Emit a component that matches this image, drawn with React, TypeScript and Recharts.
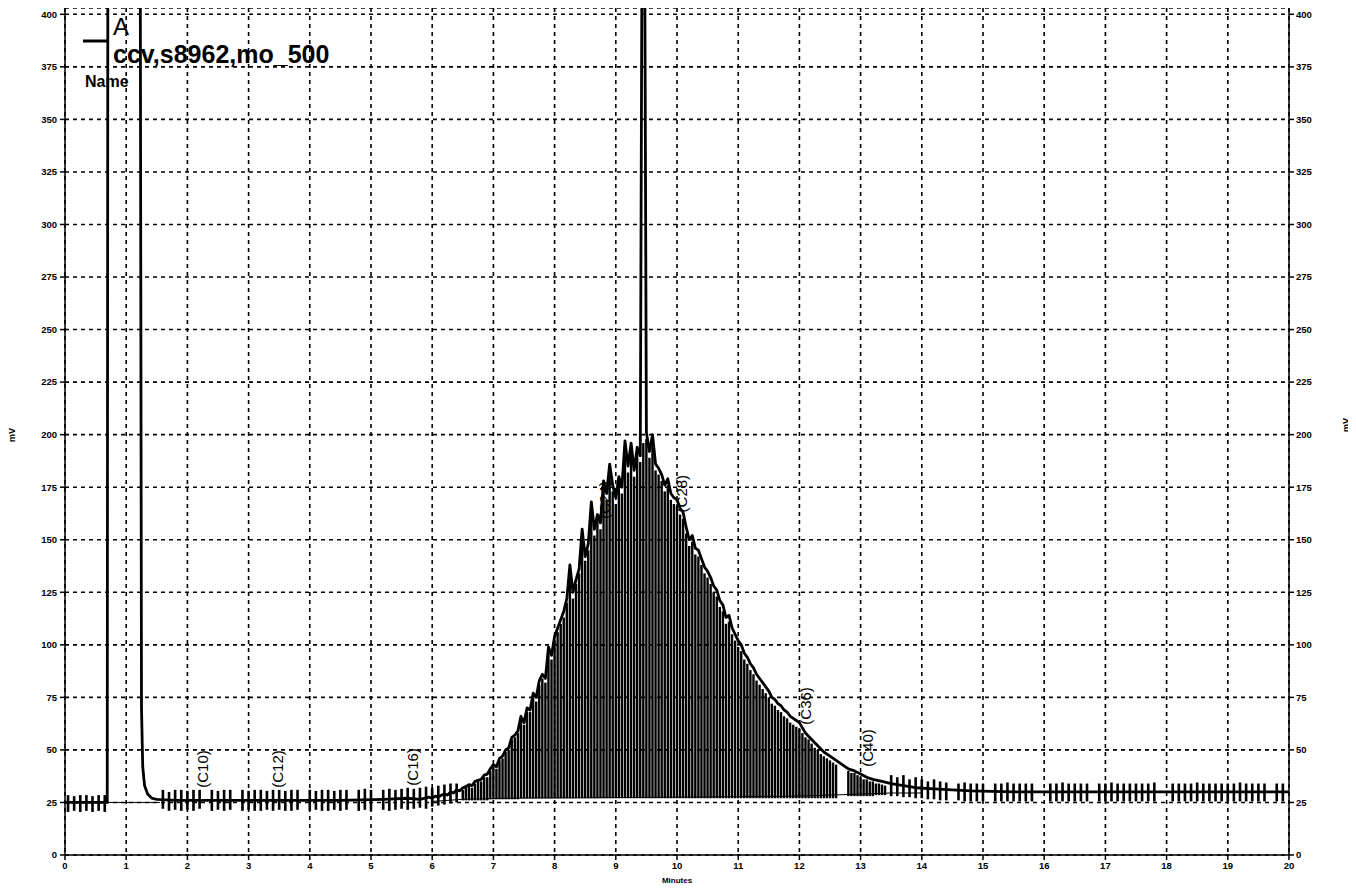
import React from 'react'
import { ComposedChart, Line, Bar, Scatter, XAxis, YAxis, CartesianGrid } from 'recharts'

type Pt = [number, number]
type Slice = [number, number, number]

// detector trace, [minutes, mV]
const solventFront: Pt[] = [
  [0, 25], [0.69, 25], [0.7, 420], [1.22, 420], [1.23, 420], [1.25, 70], [1.27, 42],
  [1.3, 33], [1.35, 29], [1.42, 27], [1.5, 26.5],
]
const earlyBaseline: Pt[] = [
  [1.8, 26], [2.5, 26], [3.5, 26], [4.5, 26], [5.2, 26.5], [5.6, 27], [5.8, 26.5], [5.95, 27.5],
]
const hump: Pt[] = [
  [6.0, 27], [6.05, 28], [6.1, 27.5], [6.15, 28.5], [6.2, 29], [6.25, 28.5], [6.3, 30], [6.35, 29.5],
  [6.4, 31], [6.45, 30.5], [6.5, 32], [6.55, 32.5], [6.6, 33.5], [6.65, 33], [6.7, 35], [6.75, 35.5],
  [6.8, 36], [6.85, 38], [6.9, 38.5], [6.95, 41], [7.0, 43], [7.05, 42], [7.1, 46], [7.15, 47],
  [7.2, 50], [7.25, 51], [7.3, 56], [7.35, 57], [7.4, 59], [7.45, 66], [7.5, 63], [7.55, 70],
  [7.6, 69], [7.65, 77], [7.7, 75], [7.75, 83], [7.8, 86], [7.85, 84], [7.9, 99], [7.95, 95],
  [8.0, 104], [8.05, 108], [8.1, 112], [8.15, 116], [8.2, 122], [8.25, 138], [8.3, 125], [8.35, 131],
  [8.4, 136], [8.45, 155], [8.5, 142], [8.55, 148], [8.6, 168], [8.65, 155], [8.7, 162], [8.75, 158],
  [8.8, 178], [8.85, 172], [8.9, 186], [8.95, 176], [9.0, 170], [9.05, 180], [9.1, 175], [9.15, 197],
  [9.2, 185], [9.25, 196], [9.3, 183], [9.35, 194], [9.4, 190], [9.43, 450], [9.47, 450], [9.5, 201],
  [9.55, 192], [9.6, 200], [9.65, 186], [9.7, 184], [9.75, 181], [9.8, 176], [9.85, 179], [9.9, 172],
  [9.95, 170], [10.0, 169], [10.05, 165], [10.1, 163], [10.15, 156], [10.2, 150], [10.25, 152], [10.3, 146],
  [10.35, 145], [10.4, 141], [10.45, 137], [10.5, 135], [10.55, 132], [10.6, 128], [10.65, 126], [10.7, 121],
  [10.75, 119], [10.8, 113], [10.85, 114], [10.9, 108], [10.95, 105], [11.0, 102], [11.05, 100], [11.1, 96],
  [11.15, 94], [11.2, 91], [11.25, 89], [11.3, 86], [11.35, 84], [11.4, 82], [11.45, 80], [11.5, 78],
  [11.55, 75], [11.6, 74], [11.65, 72], [11.7, 71], [11.75, 69], [11.8, 68], [11.85, 66], [11.9, 65],
  [11.95, 64], [12.0, 63], [12.1, 58], [12.2, 55], [12.3, 52], [12.4, 49], [12.5, 47], [12.6, 45],
  [12.7, 43], [12.8, 41], [12.9, 40], [13.0, 38.5], [13.1, 37], [13.2, 36], [13.35, 35], [13.5, 34],
  [13.7, 33], [13.9, 32],
]
const lateBaseline: Pt[] = [
  [14.2, 31.5], [14.5, 31], [14.8, 30.5], [15.5, 30], [16.5, 30], [17.5, 30], [18.5, 30], [19.5, 30], [20, 30],
]

// integration baseline under the trace
const baselineFront: Pt[] = [[0, 25], [1.55, 25]]
const baselineHump: Pt[] = [[6.0, 25.5], [6.5, 26.5], [7.2, 27], [10.0, 27.5], [12.0, 28], [13.5, 29.5], [14.0, 29.5]]

// integration slices, [minutes, low mV, high mV]
const frontNoise: Slice[] = [
  [0.05, 20.5, 28.5], [0.15, 21, 28], [0.25, 20.5, 28.5], [0.35, 21, 28.5], [0.45, 20.5, 28], [0.55, 21, 28.5], [0.65, 20.5, 28.5],
]
const earlyNoise: Slice[] = [
  [1.6, 22, 31], [1.7, 21, 30], [1.8, 21.5, 31], [1.9, 21, 31], [2.0, 21.5, 30.5], [2.1, 21, 31], [2.2, 22, 31],
  [2.4, 21, 31], [2.5, 21.5, 30.5], [2.6, 21, 31], [2.7, 21.5, 31], [2.9, 21, 31], [3.0, 21.5, 30.5],
  [3.1, 21, 31], [3.2, 21, 31], [3.3, 21.5, 30.5], [3.4, 21, 31], [3.5, 21.5, 31], [3.6, 21, 30.5],
  [3.7, 21, 31], [3.8, 21.5, 31], [4.0, 21, 31], [4.1, 21.5, 30.5], [4.2, 21, 31], [4.3, 21, 31],
  [4.4, 21.5, 30.5], [4.5, 21, 31], [4.6, 21.5, 31], [4.8, 21, 31], [4.9, 21.5, 31.5], [5.0, 21, 31],
  [5.2, 21.5, 31], [5.3, 21, 31.5], [5.4, 21.5, 31], [5.5, 22, 31.5], [5.6, 21.5, 32], [5.7, 22, 31.5],
  [5.8, 22.5, 32], [5.9, 22, 32.5], [6.0, 23, 32], [6.1, 23.5, 33], [6.2, 24, 33.5], [6.3, 24.5, 34], [6.4, 25, 34],
]
const humpSlices: Slice[] = [
  [6.5, 26, 31], [6.55, 26, 32], [6.6, 26, 33], [6.65, 26, 32], [6.7, 26, 34], [6.75, 26, 35], [6.8, 26, 35],
  [6.85, 26, 37], [6.9, 26, 37], [6.95, 26.5, 40], [7.0, 26.5, 42], [7.05, 26.5, 41], [7.1, 26.5, 45],
  [7.15, 26.5, 46], [7.2, 26.5, 49], [7.25, 26.5, 50], [7.3, 26.5, 55], [7.35, 26.5, 56], [7.4, 26.5, 58],
  [7.45, 27, 64], [7.5, 27, 62], [7.55, 27, 68], [7.6, 27, 68], [7.65, 27, 75], [7.7, 27, 73], [7.75, 27, 81],
  [7.8, 27, 84], [7.85, 27, 82], [7.9, 27, 96], [7.95, 27, 93], [8.0, 27, 102], [8.05, 27, 106], [8.1, 27, 110],
  [8.15, 27, 113], [8.2, 27, 120], [8.25, 27, 136], [8.3, 27, 122], [8.35, 27, 129], [8.4, 27, 134],
  [8.45, 27, 152], [8.5, 27, 140], [8.55, 27, 145], [8.6, 27, 165], [8.65, 27, 152], [8.7, 27, 160],
  [8.75, 27, 155], [8.8, 27, 175], [8.85, 27, 169], [8.9, 27, 183], [8.95, 27, 173], [9.0, 27, 167],
  [9.05, 27, 177], [9.1, 27, 172], [9.15, 27, 194], [9.2, 27, 182], [9.25, 27, 193], [9.3, 27, 180],
  [9.35, 27, 191], [9.4, 27, 187], [9.45, 27, 196], [9.5, 27, 198], [9.55, 27, 189], [9.6, 27, 197],
  [9.65, 27, 183], [9.7, 27, 181], [9.75, 27, 178], [9.8, 27, 173], [9.85, 27, 176], [9.9, 27, 169],
  [9.95, 27, 167], [10.0, 27, 166], [10.05, 27, 162], [10.1, 27, 160], [10.15, 27, 153], [10.2, 27, 147],
  [10.25, 27, 149], [10.3, 27, 143], [10.35, 27, 142], [10.4, 27, 138], [10.45, 27, 134], [10.5, 27, 132],
  [10.55, 27, 129], [10.6, 27, 125], [10.65, 27, 123], [10.7, 27, 118], [10.75, 27, 116], [10.8, 27, 110],
  [10.85, 27, 111], [10.9, 27, 105], [10.95, 27, 102], [11.0, 27, 99], [11.05, 27, 97], [11.1, 27, 93],
  [11.15, 27, 91], [11.2, 27, 88], [11.25, 27, 86], [11.3, 27, 83], [11.35, 27, 81], [11.4, 27, 79],
  [11.45, 27, 77], [11.5, 27, 75], [11.55, 27, 72], [11.6, 27, 71], [11.65, 27, 69], [11.7, 27, 68],
  [11.75, 27, 66], [11.8, 27, 65], [11.85, 27, 63], [11.9, 27, 62], [11.95, 27, 61], [12.0, 27, 60],
  [12.05, 27, 58], [12.1, 27, 56], [12.15, 27, 55], [12.2, 27, 53], [12.25, 27, 51], [12.3, 27, 50],
  [12.35, 27, 48], [12.4, 27, 47], [12.45, 27, 46], [12.5, 27, 45], [12.55, 27, 44], [12.6, 27, 43],
  [12.8, 28, 40], [12.85, 28, 39], [12.9, 28, 39], [12.95, 28, 38], [13.0, 28, 37], [13.05, 28, 36],
  [13.1, 28, 36], [13.15, 28, 35], [13.2, 28, 35], [13.25, 28.5, 34], [13.3, 28.5, 34], [13.35, 28.5, 33.5],
  [13.4, 28.5, 33],
]
const lateNoise: Slice[] = [
  [13.5, 28, 38], [13.6, 28, 37], [13.7, 27.5, 38], [13.8, 27.5, 36], [13.9, 27, 37], [14.0, 27, 36],
  [14.1, 26.5, 35], [14.2, 26.5, 36], [14.3, 26, 35], [14.4, 26, 34.5], [14.6, 26, 34], [14.7, 25.5, 34.5],
  [14.8, 25.5, 34], [14.9, 25.5, 34], [15.0, 25.5, 34], [15.2, 25.5, 34], [15.3, 25.5, 34], [15.4, 25.5, 34.5],
  [15.5, 25.5, 34], [15.6, 25.5, 34], [15.7, 25.5, 34], [15.8, 25.5, 34], [16.1, 25.5, 34], [16.2, 25.5, 34],
  [16.3, 25.5, 34.5], [16.4, 25.5, 34], [16.5, 25.5, 34], [16.6, 25.5, 34], [16.7, 25.5, 34], [16.9, 25.5, 34],
  [17.0, 25.5, 34], [17.1, 25.5, 34.5], [17.2, 25.5, 34], [17.3, 25.5, 34], [17.4, 25.5, 34], [17.5, 25.5, 34],
  [17.6, 25.5, 34], [17.7, 25.5, 34], [17.8, 25.5, 34.5], [18.1, 25.5, 34], [18.2, 25.5, 34], [18.3, 25.5, 34],
  [18.4, 25.5, 34], [18.5, 25.5, 34.5], [18.6, 25.5, 34], [18.7, 25.5, 34], [18.8, 25.5, 34], [18.9, 25.5, 34],
  [19.0, 25.5, 34], [19.1, 25.5, 34], [19.2, 25.5, 34.5], [19.3, 25.5, 34], [19.4, 25.5, 34], [19.5, 25.5, 34],
  [19.6, 25.5, 34], [19.8, 25.5, 34], [19.9, 25.5, 34],
]

// peak tags: carbon number, retention time, mV where the tag starts
const peakTags = ['(C10)', '(C12)', '(C16)', '(C24)', '(C28)', '(C36)', '(C40)']
const peakTimes = [2.24, 3.48, 5.67, 8.81, 10.07, 12.1, 13.12]
const peakTagBase = [32, 32, 33, 160, 163, 62, 42]

const minuteTicks = [0, 1, 2, 3, 4, 5, 6, 7, 8, 9, 10, 11, 12, 13, 14, 15, 16, 17, 18, 19, 20]
const mvTicks = [0, 25, 50, 75, 100, 125, 150, 175, 200, 225, 250, 275, 300, 325, 350, 375, 400]

const toPts = (arr: Pt[]) => arr.map(([t, v]) => ({ t, v }))
const toSlices = (arr: Slice[], kind: string) => arr.map(([t, lo, hi]) => ({ t, range: [lo, hi], kind }))

const trace = toPts([...solventFront, ...earlyBaseline, ...hump, ...lateBaseline])
const slices = [
  ...toSlices(frontNoise, 'noise'),
  ...toSlices(earlyNoise, 'noise'),
  ...toSlices(humpSlices, 'hump'),
  ...toSlices(lateNoise, 'noise'),
]
const tags = peakTags.map((name, i) => ({ t: peakTimes[i], v: peakTagBase[i], name }))

const FONT = '"Liberation Sans", Arial, sans-serif'
const tickStyle = { fontSize: 9.5, fontWeight: 700, fill: '#000', fontFamily: FONT }

// slices drawn as thin black strokes; noise combs a bit wider than the hump ones
const SliceShape = (p: any) => {
  const w = p.payload.kind === 'noise' ? 2.6 : 2.4
  const cx = p.x + p.width / 2
  const y = Math.min(p.y, p.y + p.height)
  return <rect x={cx - w / 2} y={y} width={w} height={Math.abs(p.height)} fill="#000" />
}

const TagShape = (p: any) => (
  <text
    x={p.cx}
    y={p.cy}
    transform={`rotate(-90 ${p.cx} ${p.cy})`}
    dominantBaseline="central"
    fontSize={15}
    fontFamily={FONT}
    fill="#000"
  >
    {p.payload.name}
  </text>
)

export default function App() {
  return (
    <div style={{ position: 'relative', width: 1356, height: 890, margin: '-8px -8px 0 -8px', background: '#fff' }}>
      <ComposedChart
        width={1356}
        height={890}
        data={slices}
        margin={{ top: 8, right: 0, bottom: 0, left: 0 }}
        barCategoryGap={0}
      >
        <CartesianGrid stroke="#000" strokeDasharray="4 4" strokeWidth={1.6} />
        <XAxis
          dataKey="t"
          type="number"
          domain={[0, 20]}
          ticks={minuteTicks}
          allowDataOverflow
          height={35}
          tickSize={5}
          tickMargin={2}
          tick={tickStyle}
          stroke="#000"
          strokeWidth={1.5}
        />
        <XAxis xAxisId="top" orientation="top" type="number" domain={[0, 20]} height={0} tick={false} tickLine={false} stroke="#000" strokeWidth={1.5} />
        <YAxis
          type="number"
          domain={[0, 403]}
          ticks={mvTicks}
          allowDataOverflow
          width={65}
          tickSize={5}
          tickMargin={3}
          tick={tickStyle}
          stroke="#000"
          strokeWidth={1.5}
        />
        <YAxis
          yAxisId="r"
          orientation="right"
          type="number"
          domain={[0, 403]}
          ticks={mvTicks}
          allowDataOverflow
          width={67}
          tickSize={5}
          tickMargin={2}
          tick={tickStyle}
          stroke="#000"
          strokeWidth={1.5}
        />
        <Bar dataKey="range" barSize={2} shape={SliceShape} isAnimationActive={false} />
        <Line data={toPts(baselineFront)} dataKey="v" stroke="#000" strokeWidth={1} dot={false} isAnimationActive={false} />
        <Line data={toPts(baselineHump)} dataKey="v" stroke="#000" strokeWidth={1} dot={false} isAnimationActive={false} />
        <Line data={trace} dataKey="v" stroke="#000" strokeWidth={2.8} dot={false} isAnimationActive={false} strokeLinejoin="round" />
        <Scatter data={tags} dataKey="v" shape={TagShape} isAnimationActive={false} />
      </ComposedChart>
      <svg width={1356} height={890} style={{ position: 'absolute', left: 0, top: 0, pointerEvents: 'none' }}>
        <g fontFamily={FONT} fill="#000">
          <line x1={83} y1={41} x2={107} y2={41} stroke="#000" strokeWidth={3} />
          <text x={113} y={35} fontSize={24}>A</text>
          <text x={113} y={63} fontSize={25} fontWeight={700}>ccv,s8962,mo_500</text>
          <text x={85} y={87} fontSize={16} fontWeight={700}>Name</text>
          <text x={677} y={883} fontSize={8} fontWeight={700} textAnchor="middle">Minutes</text>
          <text x={15} y={435} fontSize={9} fontWeight={700} textAnchor="middle" transform="rotate(-90 15 435)">mV</text>
          <text x={1349} y={425} fontSize={9} fontWeight={700} textAnchor="middle" transform="rotate(-90 1349 425)">mV</text>
        </g>
      </svg>
    </div>
  )
}
